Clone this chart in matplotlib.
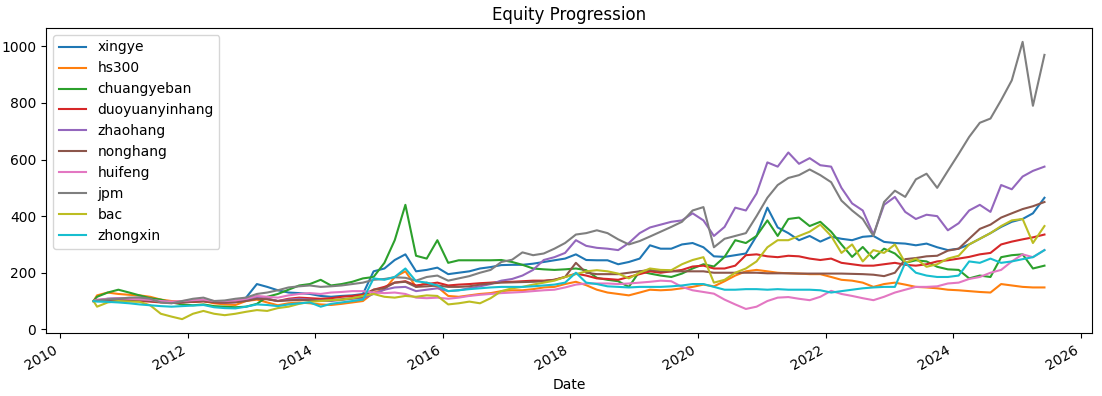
import pandas as pd
import matplotlib
matplotlib.use("Agg")
import matplotlib.pyplot as plt
from matplotlib import dates as mdates

# sample dates: first trading day, then every 2 months, then last day
dates = pd.DatetimeIndex(
    [pd.Timestamp("2010-07-12")]
    + list(pd.date_range("2010-08-01", "2025-04-01", freq="2MS"))
    + [pd.Timestamp("2025-06-06")]
)

# values (rows: 2010 Jul/Aug/Oct/Dec, then Feb..Dec per year, 2025 Feb/Apr/Jun)
xingye = [100, 102, 108, 110,
          108, 106, 103, 98, 95, 96,
          98, 100, 95, 96, 100, 112,
          160, 150, 138, 130, 128, 125,
          118, 115, 118, 120, 125, 205,
          215, 245, 265, 205, 210, 218,
          195, 200, 205, 215, 220, 227,
          228, 228, 232, 238, 244, 250,
          265, 245, 244, 244, 230, 238,
          250, 297, 285, 285, 300, 305,
          290, 258, 256, 262, 268, 330,
          430, 360, 340, 315, 330, 310,
          327, 320, 315, 327, 330, 309,
          305, 303, 297, 303, 290, 280,
          285, 300, 320, 340, 362, 380,
          390, 410, 465]

hs300 = [100, 120, 130, 125,
         122, 120, 115, 105, 100, 98,
         97, 100, 92, 88, 86, 100,
         105, 95, 85, 92, 95, 92,
         88, 86, 90, 95, 100, 130,
         140, 185, 205, 150, 165, 150,
         118, 115, 120, 125, 128, 135,
         138, 138, 142, 148, 150, 160,
         168, 156, 140, 130, 125, 120,
         130, 140, 138, 140, 145, 150,
         158, 152, 170, 190, 205, 210,
         205, 200, 198, 197, 195, 195,
         185, 175, 172, 165, 150, 160,
         165, 158, 150, 148, 145, 140,
         138, 135, 132, 130, 160, 155,
         150, 148, 148]

chuangyeban = [100, 115, 130, 140,
               130, 120, 110, 105, 95, 88,
               85, 88, 82, 80, 78, 80,
               90, 115, 125, 140, 155, 160,
               175, 155, 160, 168, 180, 185,
               235, 315, 440, 260, 250, 315,
               235, 244, 244, 244, 244, 245,
               238, 228, 215, 212, 210, 212,
               215, 209, 182, 175, 170, 150,
               205, 197, 190, 185, 197, 215,
               230, 222, 256, 315, 305, 330,
               385, 330, 390, 395, 365, 380,
               345, 300, 256, 291, 250, 285,
               268, 235, 244, 240, 221, 212,
               210, 180, 190, 185, 255, 262,
               265, 215, 225]

duoyuanyinhang = [100, 102, 104, 105,
                  103, 100, 98, 95, 93, 95,
                  97, 99, 95, 94, 96, 102,
                  112, 108, 100, 108, 112, 110,
                  108, 110, 115, 118, 122, 140,
                  150, 165, 170, 155, 160, 165,
                  155, 158, 160, 163, 165, 168,
                  168, 170, 172, 172, 175, 185,
                  197, 190, 180, 178, 175, 185,
                  195, 205, 200, 205, 210, 222,
                  225, 215, 215, 225, 262, 265,
                  258, 255, 260, 258, 250, 245,
                  250, 235, 230, 225, 225, 230,
                  235, 228, 225, 230, 240, 244,
                  250, 256, 265, 270, 300, 310,
                  318, 325, 335]

zhaohang = [100, 103, 105, 102,
            105, 108, 105, 98, 95, 96,
            100, 104, 97, 95, 96, 105,
            112, 108, 100, 105, 108, 105,
            102, 100, 104, 108, 110, 125,
            140, 148, 150, 135, 140, 145,
            135, 138, 145, 152, 160, 172,
            178, 190, 210, 245, 255, 270,
            315, 295, 288, 285, 280, 305,
            340, 360, 370, 380, 385, 410,
            385, 330, 362, 430, 420, 480,
            590, 575, 625, 585, 605, 580,
            575, 500, 445, 420, 335, 440,
            468, 415, 390, 405, 400, 350,
            375, 420, 440, 415, 510, 495,
            540, 560, 575]

nonghang = [100, 101, 103, 103,
            104, 103, 100, 97, 96, 97,
            98, 100, 96, 95, 96, 100,
            108, 106, 100, 102, 104, 103,
            102, 103, 106, 110, 115, 140,
            145, 165, 168, 150, 152, 155,
            150, 150, 152, 158, 162, 165,
            166, 167, 168, 170, 175, 185,
            235, 200, 195, 195, 195, 200,
            205, 210, 205, 205, 205, 205,
            205, 200, 200, 200, 200, 200,
            198, 198, 198, 197, 197, 197,
            197, 197, 196, 195, 193, 188,
            200, 248, 252, 258, 260, 278,
            285, 320, 355, 370, 395, 410,
            425, 435, 450]

huifeng = [100, 105, 108, 110,
           108, 106, 104, 100, 98, 100,
           103, 105, 100, 100, 102, 108,
           118, 115, 112, 120, 125, 128,
           125, 130, 132, 135, 135, 130,
           128, 130, 125, 112, 110, 112,
           108, 112, 118, 122, 125, 128,
           130, 132, 135, 138, 140, 148,
           158, 162, 162, 162, 160, 162,
           165, 168, 172, 170, 150, 138,
           132, 126, 105, 88, 72, 80,
           100, 112, 114, 108, 103, 115,
           136, 125, 118, 110, 103, 115,
           130, 140, 150, 150, 152, 162,
           165, 178, 185, 200, 210, 240,
           265, 255, 280]

jpm = [100, 102, 106, 108,
       112, 113, 108, 95, 92, 100,
       108, 112, 100, 102, 108, 112,
       125, 130, 138, 148, 152, 155,
       150, 152, 155, 160, 165, 175,
       178, 184, 182, 172, 185, 190,
       172, 180, 188, 200, 210, 238,
       246, 272, 262, 268, 285, 305,
       335, 340, 350, 340, 318, 300,
       312, 328, 345, 362, 380, 420,
       432, 290, 320, 330, 340, 400,
       465, 510, 535, 545, 565, 545,
       520, 455, 420, 390, 330, 450,
       490, 468, 530, 550, 500, 560,
       620, 680, 730, 745, 810, 880,
       1016, 790, 970]

bac = [100, 80, 95, 100,
       98, 97, 85, 55, 45, 36,
       55, 65, 55, 50, 55, 62,
       68, 65, 75, 80, 90, 97,
       100, 103, 105, 110, 118, 125,
       115, 112, 118, 115, 120, 118,
       88, 92, 98, 92, 110, 135,
       145, 150, 158, 165, 172, 185,
       195, 205, 209, 205, 197, 180,
       200, 215, 210, 209, 230, 245,
       255, 165, 175, 200, 215, 240,
       290, 315, 315, 330, 345, 370,
       330, 270, 300, 240, 280, 270,
       300, 235, 250, 221, 230, 250,
       260, 300, 320, 340, 365, 385,
       390, 305, 365]

zhongxin = [100, 98, 97, 95,
            92, 88, 85, 82, 80, 82,
            84, 86, 78, 75, 74, 80,
            88, 86, 82, 88, 92, 95,
            80, 90, 95, 100, 105, 180,
            175, 185, 215, 170, 165, 155,
            135, 138, 142, 145, 148, 150,
            150, 150, 152, 155, 158, 165,
            200, 165, 160, 152, 150, 148,
            150, 150, 150, 152, 155, 160,
            160, 150, 140, 140, 142, 142,
            140, 142, 140, 140, 140, 138,
            130, 135, 140, 145, 148, 150,
            150, 235, 200, 190, 185, 185,
            190, 240, 235, 250, 235, 240,
            248, 255, 280]

names = ["xingye", "hs300", "chuangyeban", "duoyuanyinhang", "zhaohang",
         "nonghang", "huifeng", "jpm", "bac", "zhongxin"]
series = [xingye, hs300, chuangyeban, duoyuanyinhang, zhaohang,
          nonghang, huifeng, jpm, bac, zhongxin]

equity = pd.DataFrame(dict(zip(names, series)), index=dates)

fig = plt.figure(figsize=(11.02, 3.96), dpi=100)
ax = fig.add_axes([46 / 1102, 1 - 333 / 396, 1046 / 1102, 305 / 396])

for name in names:
    ax.plot(equity.index, equity[name], label=name)

ax.xaxis.set_major_locator(mdates.YearLocator(2))
ax.xaxis.set_major_formatter(mdates.DateFormatter("%Y"))
for lbl in ax.get_xticklabels():
    lbl.set_rotation(30)
    lbl.set_ha("right")

ax.set_title("Equity Progression")
ax.set_xlabel("Date")
ax.legend(loc="upper left")

fig.savefig("out.png", dpi=100)
